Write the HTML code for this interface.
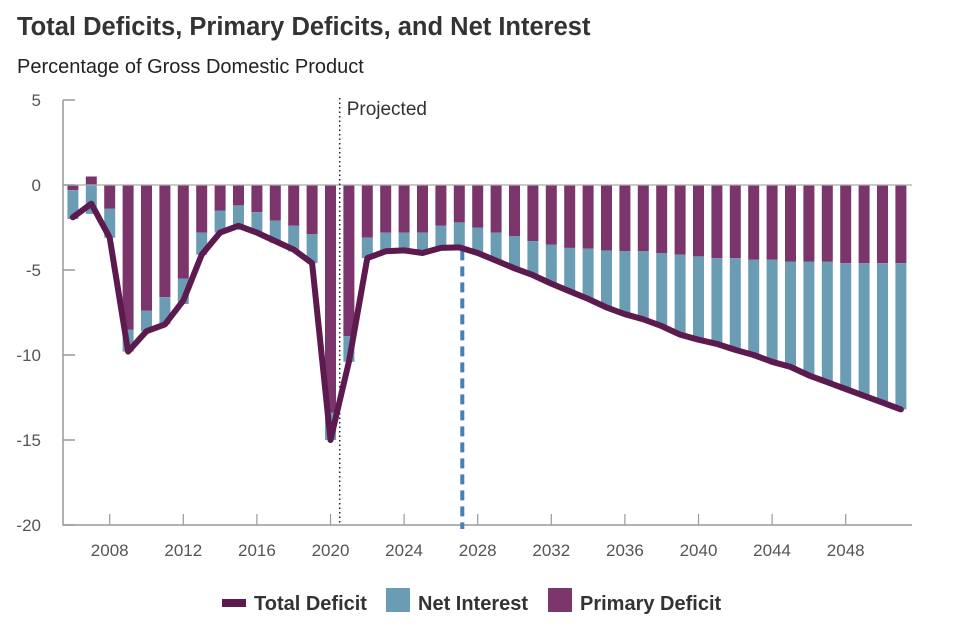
<!DOCTYPE html>
<html><head><meta charset="utf-8"><style>
body{margin:0;background:#fff;font-family:"Liberation Sans",Arial,sans-serif}
svg{display:block}
</style></head><body>
<svg id="c" width="960" height="640" font-family="Liberation Sans, Arial, sans-serif">
<text x="17" y="35" font-size="25.5" font-weight="bold" fill="#333">Total Deficits, Primary Deficits, and Net Interest</text>
<text x="17" y="73" font-size="20" fill="#222">Percentage of Gross Domestic Product</text>
<g id="bars"></g>
<g id="axes"></g>
<g id="lines"></g>
<g>
<rect x="222" y="599" width="24" height="8" fill="#5C1A4F"/>
<text x="254" y="610" font-size="20" font-weight="bold" fill="#333">Total Deficit</text>
<rect x="386" y="588" width="24" height="24" fill="#6A9DB4"/>
<text x="418" y="610" font-size="20" font-weight="bold" fill="#333">Net Interest</text>
<rect x="548" y="588" width="24" height="24" fill="#7B356B"/>
<text x="580" y="610" font-size="20" font-weight="bold" fill="#333">Primary Deficit</text>
</g>
</svg>
<script>
const years=[2006,2007,2008,2009,2010,2011,2012,2013,2014,2015,2016,2017,2018,2019,2020,2021,2022,2023,2024,2025,2026,2027,2028,2029,2030,2031,2032,2033,2034,2035,2036,2037,2038,2039,2040,2041,2042,2043,2044,2045,2046,2047,2048,2049,2050,2051];
const primaryDeficit=[-0.3,0.5,-1.4,-8.5,-7.4,-6.6,-5.5,-2.8,-1.5,-1.2,-1.6,-2.1,-2.4,-2.9,-13.4,-8.9,-3.1,-2.8,-2.8,-2.8,-2.4,-2.2,-2.5,-2.8,-3.0,-3.3,-3.5,-3.7,-3.75,-3.85,-3.9,-3.9,-4.0,-4.1,-4.2,-4.3,-4.3,-4.4,-4.4,-4.5,-4.5,-4.5,-4.6,-4.6,-4.6,-4.6];
const netInterest=[-1.7,-1.7,-1.7,-1.3,-1.2,-1.6,-1.5,-1.3,-1.3,-1.2,-1.2,-1.3,-1.5,-1.7,-1.6,-1.5,-1.2,-1.1,-1.05,-1.2,-1.3,-1.45,-1.5,-1.65,-1.9,-2.0,-2.3,-2.55,-2.95,-3.35,-3.7,-4.0,-4.3,-4.7,-4.9,-5.05,-5.4,-5.6,-6.0,-6.2,-6.7,-7.1,-7.4,-7.8,-8.2,-8.6];
const totalDeficit=[-1.9,-1.1,-3.1,-9.8,-8.6,-8.2,-6.8,-4.1,-2.8,-2.4,-2.8,-3.3,-3.8,-4.6,-15.0,-10.4,-4.3,-3.9,-3.85,-4.0,-3.7,-3.67,-4.0,-4.45,-4.9,-5.3,-5.8,-6.25,-6.7,-7.2,-7.6,-7.9,-8.3,-8.8,-9.1,-9.35,-9.7,-10.0,-10.4,-10.7,-11.2,-11.6,-12.0,-12.4,-12.8,-13.2];
const yTicks=[5,0,-5,-10,-15,-20];
const xTickLabels=[2008,2012,2016,2020,2024,2028,2032,2036,2040,2044,2048];
const projectedStart=2020.5;
const dashedYear=2027;

const NS="http://www.w3.org/2000/svg";
const X=y=>109.7+(y-2008)*18.4;
const Y=v=>185-v*17;
function mk(tag,attrs,parent){const e=document.createElementNS(NS,tag);for(const k in attrs)e.setAttribute(k,attrs[k]);parent.appendChild(e);return e;}
const bars=document.getElementById('bars'),axes=document.getElementById('axes'),lines=document.getElementById('lines');
const bw=11;
years.forEach((yr,i)=>{
  const p=primaryDeficit[i],n=netInterest[i];
  const x=X(yr)-bw/2;
  if(p>=0){
    const r=mk('rect',{x:x,y:Y(p),width:bw,height:Y(0)-Y(p),fill:'#7B356B'},bars);
    
    
    const r2=mk('rect',{x:x,y:Y(0),width:bw,height:Y(n)-Y(0),fill:'#6A9DB4'},bars);
    
    
  }else{
    const r=mk('rect',{x:x,y:Y(0),width:bw,height:Y(p)-Y(0),fill:'#7B356B'},bars);
    
    
    const r2=mk('rect',{x:x,y:Y(p),width:bw,height:Y(p+n)-Y(p),fill:'#6A9DB4'},bars);
    
    
  }
});
const ax=mk('path',{d:`M63 ${Y(5)}V${Y(-20)}H912`,stroke:'#999',fill:'none','stroke-width':1.5},axes);


const zl=mk('line',{x1:63,x2:912,y1:Y(0),y2:Y(0),stroke:'#aaa','stroke-width':1.2},axes);


yTicks.forEach(v=>{
  const t=mk('line',{x1:63,x2:75,y1:Y(v),y2:Y(v),stroke:'#999','stroke-width':1.5},axes);
  
  
  const l=mk('text',{x:41,y:Y(v)+6,'font-size':17,'text-anchor':'end',fill:'#555'},axes);
  l.textContent=v;
  
  
});
xTickLabels.forEach(yr=>{
  const t=mk('line',{x1:X(yr),x2:X(yr),y1:Y(-20)-11,y2:Y(-20),stroke:'#999','stroke-width':1.2},axes);
  
  
  const l=mk('text',{x:X(yr),y:556,'font-size':17,'text-anchor':'middle',fill:'#555'},axes);
  l.textContent=yr;
  
  
});
const pl=mk('line',{x1:X(projectedStart),x2:X(projectedStart),y1:98,y2:Y(-20),stroke:'#222','stroke-width':1.5,'stroke-dasharray':'1.5 3'},lines);


const pt=mk('text',{x:X(projectedStart)+7,y:115,'font-size':19,fill:'#333'},lines);
pt.textContent='Projected';


const di=years.indexOf(dashedYear);
const dl=mk('line',{x1:X(dashedYear)+3,x2:X(dashedYear)+3,y1:Y(totalDeficit[di])+3,y2:Y(-20)+4,stroke:'#4A7EBB','stroke-width':4,'stroke-dasharray':'10 6'},lines);


const d=years.map((yr,i)=>(i?'L':'M')+X(yr).toFixed(1)+' '+Y(totalDeficit[i]).toFixed(1)).join('');
const tl=mk('path',{d:d,stroke:'#5C1A4F','stroke-width':6,fill:'none','stroke-linejoin':'round','stroke-linecap':'round'},lines);


</script>
</body></html>
